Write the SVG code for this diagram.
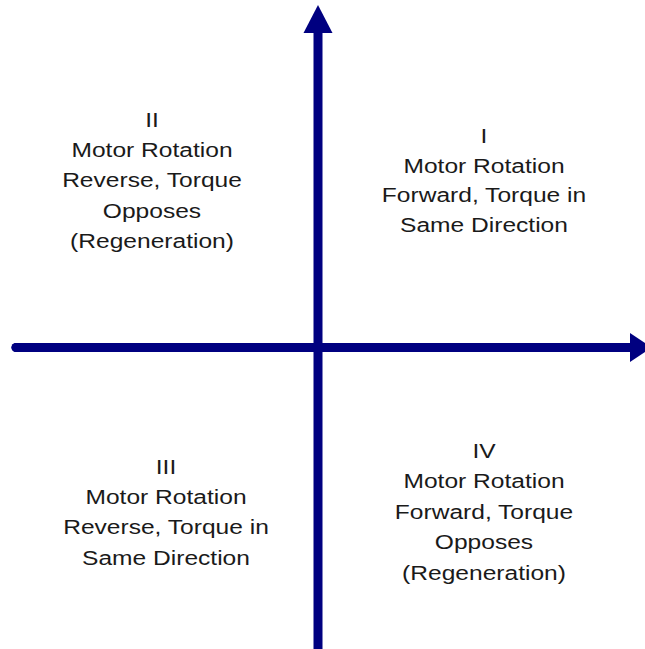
<svg xmlns="http://www.w3.org/2000/svg" width="645" height="649" viewBox="0 0 645 649">
<style>
.axis{stroke:#000080;stroke-width:9;fill:none}
.head{fill:#000080}
text{font-family:"Liberation Sans",Arial,sans-serif;font-size:21px;fill:#1a1a1a;text-anchor:middle}
</style>
<rect width="645" height="649" fill="#ffffff"/>
<g id="connectors">
<line class="axis" x1="318" y1="649" x2="318" y2="30"/>
<polygon class="head" points="318,5 303.5,33 332.5,33"/>
<line class="axis" x1="16" y1="347.5" x2="632" y2="347.5" stroke-linecap="round"/>
<line class="axis" x1="16" y1="347.5" x2="20" y2="347.5" stroke-linecap="round"/>
<polygon class="head" points="652,347.5 630,333 630,362"/>
</g>
<g id="q1" transform="translate(484,0) scale(1.17,1)">
<text x="0" y="143">I</text>
<text x="0" y="173">Motor Rotation</text>
<text x="0" y="202">Forward, Torque in</text>
<text x="0" y="232">Same Direction</text>
</g>
<g id="q2" transform="translate(152,0) scale(1.17,1)">
<text x="0" y="127">II</text>
<text x="0" y="157">Motor Rotation</text>
<text x="0" y="187">Reverse, Torque</text>
<text x="0" y="218">Opposes</text>
<text x="0" y="248">(Regeneration)</text>
</g>
<g id="q3" transform="translate(166,0) scale(1.17,1)">
<text x="0" y="474">III</text>
<text x="0" y="504">Motor Rotation</text>
<text x="0" y="534">Reverse, Torque in</text>
<text x="0" y="565">Same Direction</text>
</g>
<g id="q4" transform="translate(484,0) scale(1.17,1)">
<text x="0" y="458">IV</text>
<text x="0" y="488">Motor Rotation</text>
<text x="0" y="519">Forward, Torque</text>
<text x="0" y="549">Opposes</text>
<text x="0" y="580">(Regeneration)</text>
</g>
</svg>
